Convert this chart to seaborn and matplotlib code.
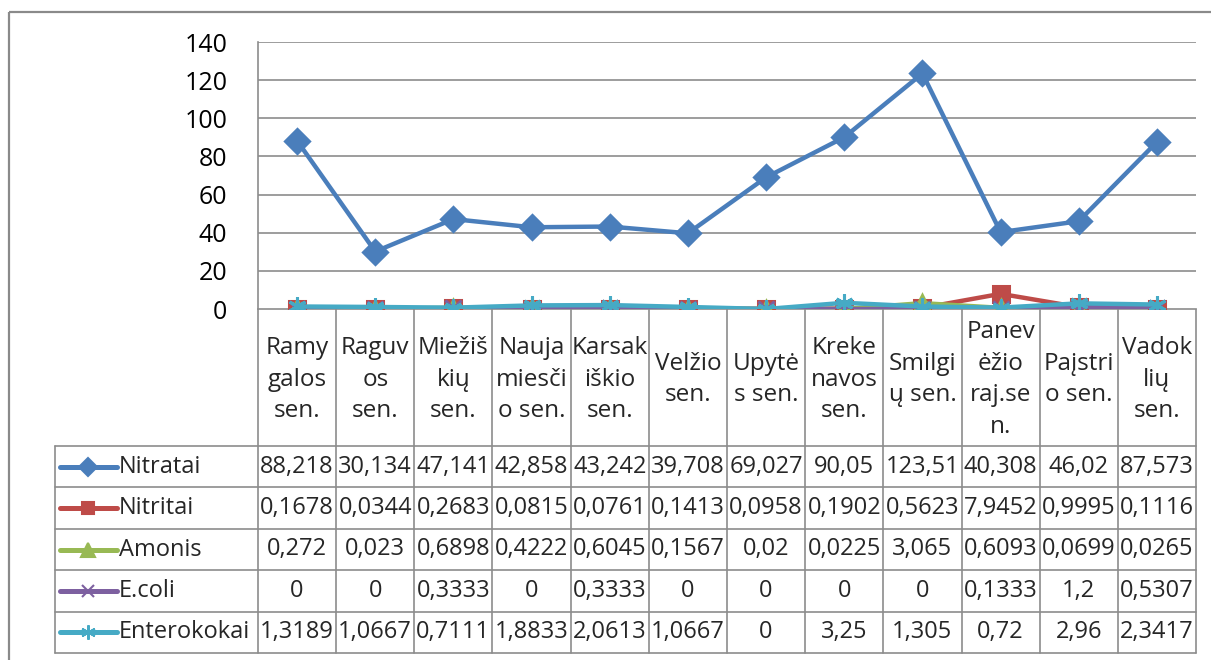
import numpy as np
import pandas as pd
import matplotlib
matplotlib.use('Agg')
import matplotlib.pyplot as plt
import matplotlib.transforms as mtransforms
from matplotlib.lines import Line2D
from matplotlib.patches import Rectangle
import seaborn as sns

sns.set_style('white')
plt.rcParams['font.family'] = ['Open Sans', 'DejaVu Sans']

# Duomenys
categories = ['Ramy\ngalos\nsen.', 'Raguv\nos\nsen.', 'Miežiš\nkių\nsen.', 'Nauja\nmiesči\no sen.',
              'Karsak\niškio\nsen.', 'Velžio\nsen.', 'Upytė\ns sen.', 'Kreke\nnavos\nsen.',
              'Smilgi\nų sen.', 'Panev\nėžio\nraj.se\nn.', 'Paįstri\no sen.', 'Vadok\nlių\nsen.']
nitratai = [88.218, 30.134, 47.141, 42.858, 43.242, 39.708, 69.027, 90.05, 123.51, 40.308, 46.02, 87.573]
nitritai = [0.1678, 0.0344, 0.2683, 0.0815, 0.0761, 0.1413, 0.0958, 0.1902, 0.5623, 7.9452, 0.9995, 0.1116]
amonis = [0.272, 0.023, 0.6898, 0.4222, 0.6045, 0.1567, 0.02, 0.0225, 3.065, 0.6093, 0.0699, 0.0265]
ecoli = [0, 0, 0.3333, 0, 0.3333, 0, 0, 0, 0, 0.1333, 1.2, 0.5307]
enterokokai = [1.3189, 1.0667, 0.7111, 1.8833, 2.0613, 1.0667, 0, 3.25, 1.305, 0.72, 2.96, 2.3417]
series_names = ['Nitratai', 'Nitritai', 'Amonis', 'E.coli', 'Enterokokai']
y_ticks = [0, 20, 40, 60, 80, 100, 120, 140]

series_vals = [nitratai, nitritai, amonis, ecoli, enterokokai]
colors = ['#4A7EBB', '#BE4B48', '#98B954', '#7D60A0', '#46AAC5']
markers = ['D', 's', '^', 'x', (6, 2, 0)]
msizes = [12, 11.5, 12, 11, 13]

W, H = 1211, 660
fig = plt.figure(figsize=(W / 100, H / 100), dpi=100)

# rėmelis ir pagalbinė ašis pikseliais
ov = fig.add_axes([0, 0, 1, 1])
ov.set_xlim(0, W)
ov.set_ylim(H, 0)
ov.axis('off')
ov.add_patch(Rectangle((9, 12), W + 20, H + 20, fill=False, edgecolor='#8a8a8a', lw=1.6))

L, R, T, B = 258, 1196, 42, 309
ax = fig.add_axes([L / W, 1 - B / H, (R - L) / W, (B - T) / H])

x_idx = np.arange(len(categories))
for name, vals, c, m, ms in zip(series_names, series_vals, colors, markers, msizes):
    df = pd.DataFrame({'x': x_idx, 'y': vals})
    sns.lineplot(data=df, x='x', y='y', ax=ax, color=c, marker=m, markersize=ms,
                 linewidth=3.2, markeredgecolor=c, markeredgewidth=2.2, legend=False)

ax.set_xlim(-0.5, len(categories) - 0.5)
ax.set_ylim(0, 140)
ax.set_yticks(y_ticks)
ax.set_xticks([])
ax.set_xlabel('')
ax.set_ylabel('')
ax.yaxis.grid(True, color='#8c8c8c', lw=1.2)
ax.set_axisbelow(True)
for s in ['top', 'right', 'bottom']:
    ax.spines[s].set_visible(False)
ax.spines['left'].set_color('#8c8c8c')
ax.spines['left'].set_linewidth(1.2)
ax.tick_params(axis='y', length=0, pad=22, labelsize=18, labelcolor='black')

# lentelė po grafiku
tr = mtransforms.blended_transform_factory(ax.transData, ov.transData)
n = len(categories)
row_top = 446
row_h = 41.4
rows_y = [row_top + i * row_h for i in range(len(series_names) + 1)]
grid_kw = dict(color='#8c8c8c', lw=1.2)

for i in range(n + 1):
    ov.plot([i - 0.5, i - 0.5], [B, rows_y[-1]], transform=tr, **grid_kw)
ov.plot([-0.5, n - 0.5], [B, B], transform=tr, **grid_kw)
for yy in rows_y:
    ov.plot([55, R], [yy, yy], **grid_kw)
ov.plot([55, 55], [rows_y[0], rows_y[-1]], **grid_kw)

for i, lab in enumerate(categories):
    ov.text(i, (B + row_top) / 2 + 2, lab, transform=tr, ha='center', va='center',
            fontsize=17.5, linespacing=1.42)


def fmt(v):
    return f'{v:g}'.replace('.', ',')


for r, (name, vals, c, m, ms) in enumerate(zip(series_names, series_vals, colors, markers, msizes)):
    yc = (rows_y[r] + rows_y[r + 1]) / 2
    ov.add_line(Line2D([60, 117], [yc, yc], color=c, lw=3.6))
    ov.add_line(Line2D([88], [yc], color=c, marker=m, markersize=ms * 0.8,
                       markeredgecolor=c, markeredgewidth=1.5))
    ov.text(119, yc, name, ha='left', va='center', fontsize=17)
    for i, v in enumerate(vals):
        ov.text(i, yc, fmt(v), transform=tr, ha='center', va='center', fontsize=17)

fig.savefig('out.png', dpi=100)
